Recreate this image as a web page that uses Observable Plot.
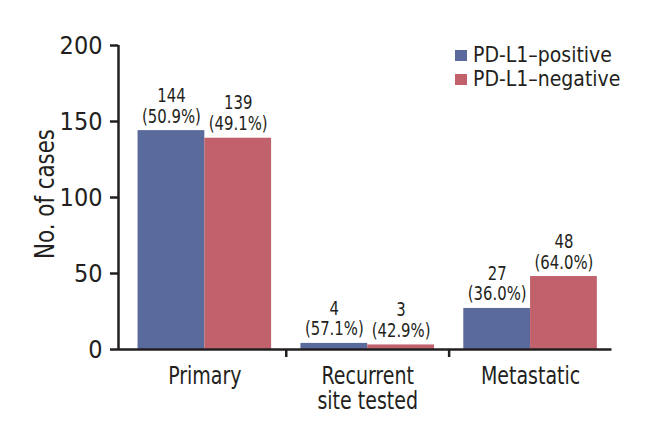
<!DOCTYPE html>
<html>
<head>
<meta charset="utf-8">
<script src="https://cdn.jsdelivr.net/npm/d3@7"></script>
<script src="https://cdn.jsdelivr.net/npm/@observablehq/plot@0.6"></script>
<style>
  body { margin: 0; background: #fff; }
  #wrap { position: relative; width: 649px; height: 443px; font-family: "Liberation Sans Narrow", "DejaVu Sans Condensed", sans-serif; }
  #legend { position: absolute; left: 455px; top: 43px; color: #231f20; font-size: 21px; line-height: 24px; }
  #legend .row { display: flex; align-items: center; white-space: nowrap; }
  #legend .sw { width: 12px; height: 11px; margin-right: 6px; }
</style>
</head>
<body>
<div id="wrap"></div>
<script>
const categories = ["Primary", "Recurrent\nsite tested", "Metastatic"];
const series = ["PD-L1\u2013positive", "PD-L1\u2013negative"];
const positiveCases = [144, 4, 27];
const negativeCases = [139, 3, 48];
const positivePct = [50.9, 57.1, 36.0];
const negativePct = [49.1, 42.9, 64.0];
const colors = ["#5a6a9c", "#c0616b"];
const yTicks = [0, 50, 100, 150, 200];

const barW = 0.41;
const rows = [];
categories.forEach((c, i) => {
  rows.push({i, s: 0, value: positiveCases[i], pct: positivePct[i], x1: i - barW, x2: i});
  rows.push({i, s: 1, value: negativeCases[i], pct: negativePct[i], x1: i, x2: i + barW});
});

const font = '"Liberation Sans Narrow", "DejaVu Sans Condensed", sans-serif';
const xMin = -0.53, xMax = 2.5;

const chart = Plot.plot({
  width: 649,
  height: 443,
  marginTop: 45,
  marginBottom: 94,
  marginLeft: 118,
  marginRight: 37.5,
  style: {fontFamily: font, color: "#231f20", background: "#fff"},
  x: {domain: [xMin, xMax]},
  y: {domain: [0, 200]},
  marks: [
    Plot.rectY(rows, {x1: "x1", x2: "x2", y1: 0, y2: "value", fill: d => colors[d.s]}),
    Plot.text(rows, {
      x: d => (d.x1 + d.x2) / 2, y: "value",
      text: d => `${d.value}\n(${d.pct.toFixed(1)}%)`,
      lineAnchor: "bottom", lineHeight: 1.1, dy: -8,
      fontSize: 19, fill: "#231f20"
    }),
    Plot.axisY({ticks: yTicks, tickSize: 8, tickPadding: 8, fontSize: 25, strokeWidth: 2.5,
      label: "No. of cases", labelAnchor: "center", labelArrow: "none", labelOffset: 84}),
    Plot.axisX({ticks: [0.5, 1.5], tickSize: 8, strokeWidth: 2.5, tickFormat: () => "", label: null}),
    Plot.axisX({ticks: [0, 1, 2], tickSize: 0, tickPadding: 16, fontSize: 24, lineHeight: 1.06,
      tickFormat: i => categories[i], label: null}),
    Plot.ruleX([xMin], {y1: 0, y2: 200, strokeWidth: 2.5, stroke: "#231f20"}),
    Plot.ruleY([0], {x1: xMin, x2: xMax, strokeWidth: 2.5, stroke: "#231f20"})
  ]
});

// condense text horizontally around its anchor point
function condense(selector, k) {
  chart.querySelectorAll(selector).forEach(t => {
    let tr = t.getAttribute("transform");
    if (!tr) {
      const x = +t.getAttribute("x") || 0, y = +t.getAttribute("y") || 0;
      t.removeAttribute("x"); t.removeAttribute("y");
      tr = `translate(${x},${y})`;
    }
    t.setAttribute("transform", `${tr} scale(${k},1)`);
  });
}
chart.querySelectorAll('g[aria-label="y-axis label"] text').forEach(t => {
  t.setAttribute("font-size", 27);
  t.setAttribute("x", 4); // nudge centre slightly upward along the rotated axis
});
condense('g[aria-label="y-axis label"] text', 0.88);
condense('g[aria-label="x-axis tick label"] text', 0.88);
condense('g[aria-label="text"] text', 0.87);

const wrap = document.getElementById("wrap");
wrap.appendChild(chart);

const legend = document.createElement("div");
legend.id = "legend";
series.forEach((s, k) => {
  const row = document.createElement("div");
  row.className = "row";
  const sw = document.createElement("span");
  sw.className = "sw";
  sw.style.background = colors[k];
  const tx = document.createElement("span");
  tx.textContent = s;
  row.appendChild(sw); row.appendChild(tx);
  legend.appendChild(row);
});
wrap.appendChild(legend);
</script>
</body>
</html>
